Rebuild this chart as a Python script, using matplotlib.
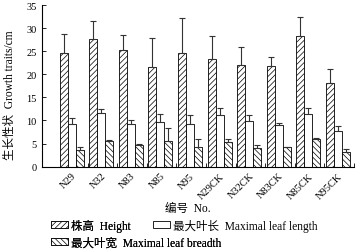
import matplotlib
matplotlib.use("Agg")
import matplotlib.pyplot as plt
import numpy as np

plt.rcParams['font.family'] = ['Liberation Serif', 'Noto Sans CJK SC']
plt.rcParams['hatch.linewidth'] = 0.5
plt.rcParams['axes.unicode_minus'] = False

samples = ["N29", "N32", "N83", "N85", "N95", "N29CK", "N32CK", "N83CK", "N85CK", "N95CK"]

height = [24.6, 27.7, 25.3, 21.5, 24.7, 23.4, 22.1, 21.8, 28.3, 18.1]
height_err = [4.2, 3.8, 3.2, 6.4, 7.4, 4.8, 3.8, 1.9, 4.0, 3.0]

leaf_length = [9.3, 11.6, 9.3, 9.6, 9.2, 11.2, 9.9, 9.1, 11.5, 7.8]
leaf_length_err = [1.2, 0.8, 0.9, 1.7, 1.9, 1.5, 1.3, 0.4, 1.2, 1.1]

leaf_breadth = [3.6, 5.6, 4.6, 5.5, 4.2, 5.3, 4.0, 4.2, 6.0, 3.1]
leaf_breadth_err = [0.7, 0.1, 0.4, 2.8, 1.8, 0.6, 0.6, 0.1, 0.3, 0.7]

fig = plt.figure(figsize=(3.6, 2.51), dpi=100)
ax = fig.add_axes([0.1167, 0.332, 0.8666, 0.644])

x = np.arange(len(samples))
w = 0.27
ekw = dict(ecolor='#333333', elinewidth=0.8, capsize=2, capthick=0.8)

zeros = [0] * len(samples)
b1 = ax.bar(x - w, height, w, color='white', edgecolor='black', linewidth=0.6,
            hatch='//////', yerr=[zeros, height_err], error_kw=ekw,
            label='株高  Height')
b2 = ax.bar(x, leaf_length, w, color='white', edgecolor='black', linewidth=0.6,
            yerr=[zeros, leaf_length_err], error_kw=ekw,
            label='最大叶长  Maximal leaf length')
b3 = ax.bar(x + w, leaf_breadth, w, color='white', edgecolor='black', linewidth=0.6,
            hatch='\\\\\\\\\\\\', yerr=[zeros, leaf_breadth_err], error_kw=ekw,
            label='最大叶宽  Maximal leaf breadth')

ax.set_xlim(-1, 9.54)
ax.set_ylim(0, 35)
ax.set_yticks(np.arange(0, 36, 5))
ax.spines['top'].set_visible(False)
ax.spines['right'].set_visible(False)
ax.spines['left'].set_linewidth(0.8)
ax.spines['bottom'].set_linewidth(0.8)

ax.set_xticks(x)
ax.set_xticklabels(samples, rotation=45, ha='right', va='top',
                   rotation_mode='anchor', fontsize=7.5)
ax.tick_params(axis='x', which='major', length=0, pad=3)
ax.set_xticks(x + 0.54, minor=True)
ax.tick_params(axis='x', which='minor', direction='in', length=3, width=0.6)
ax.tick_params(axis='y', direction='in', length=3, width=0.6, labelsize=7.5, pad=4)

ax.set_ylabel('生长性状  Growth traits/cm', fontsize=8.3)
ax.yaxis.set_label_coords(-0.084, 0.45)
fig.text(0.522, 0.167, '编号  No.', ha='center', va='center', fontsize=8.3)

leg_kw = dict(loc='upper left', frameon=False, fontsize=8.3, handlelength=1.45,
              handleheight=0.55, handletextpad=0.25, labelspacing=0.4,
              borderpad=0, borderaxespad=0)
leg1 = fig.legend(handles=[b1, b3], bbox_to_anchor=(0.142, 0.125), **leg_kw)
fig.add_artist(leg1)
fig.legend(handles=[b2], bbox_to_anchor=(0.425, 0.125), **leg_kw)

fig.savefig('out.png', dpi=100)
